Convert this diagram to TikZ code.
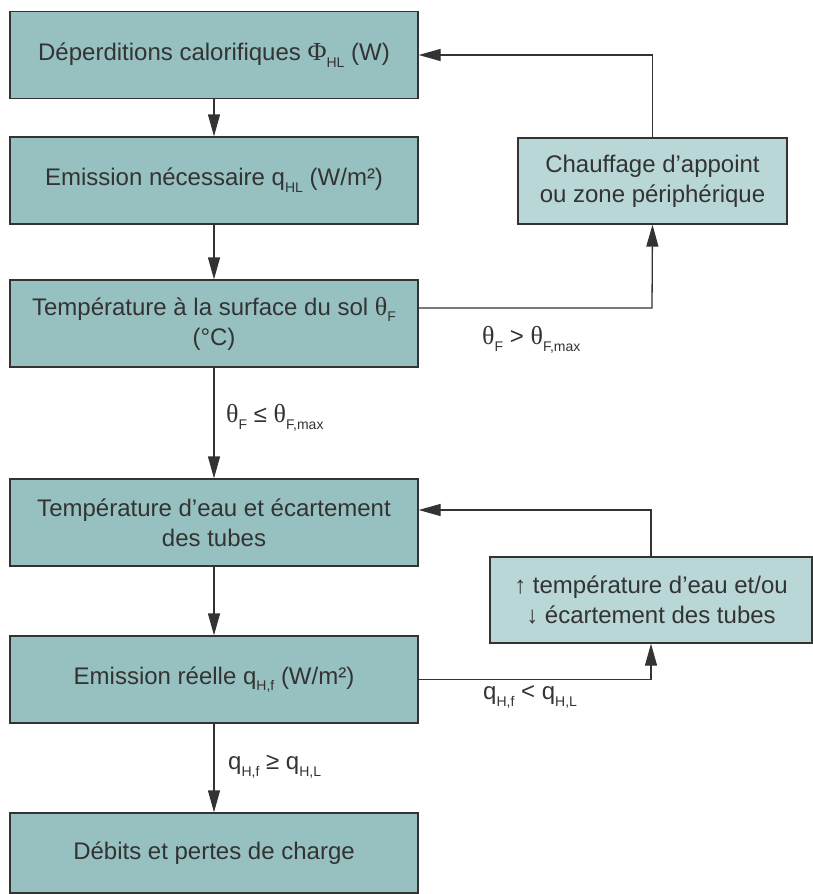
\documentclass[tikz,border=0pt]{standalone}
\usepackage{fontspec}
\setmainfont{Liberation Sans}
\newfontfamily\grkfont{Liberation Serif}
\usetikzlibrary{arrows.meta}
\definecolor{boxdark}{HTML}{96C1C0}
\definecolor{boxlight}{HTML}{B9D7D6}
\definecolor{ink}{HTML}{333333}
\definecolor{wire}{HTML}{333333}
% lowered small index and serif Greek letters
\newcommand{\lo}[1]{\raisebox{-0.28em}{\fontsize{14}{14}\selectfont #1}}
\newcommand{\gk}[1]{{\grkfont\fontsize{26}{30}\selectfont #1}}
\begin{document}
\begin{tikzpicture}[x=1pt,y=-1pt,
  mainbox/.style={draw=wire, line width=1.3pt, fill=boxdark,
    minimum width=408pt, minimum height=87pt, inner sep=0pt,
    align=center, text=ink, font=\fontsize{24}{30}\selectfont},
  sidebox/.style={mainbox, fill=boxlight},
  flow/.style={draw=wire, line width=1.3pt,
    -{Triangle[length=22pt,width=12pt]}},
  cond/.style={anchor=west, text=ink, inner sep=0pt,
    font=\fontsize{24}{28}\selectfont}]
\useasboundingbox (0,0) rectangle (812,894);

% main chain
\node[mainbox] (b1) at (214,55) {Déperditions calorifiques \gk{Φ}\lo{HL} (W)};
\node[mainbox] (b2) at (214,180.5) {Emission nécessaire q\lo{HL} (W/m²)};
\node[mainbox] (b3) at (214,323.5) {Température à la surface du sol \gk{θ}\lo{F}\\(°C)};
\node[mainbox] (b4) at (214,522.5) {Température d’eau et écartement\\des tubes};
\node[mainbox] (b5) at (214,679.5) {Emission réelle q\lo{H,f} (W/m²)};
\node[mainbox, minimum height=80pt] (b6) at (214,853) {Débits et pertes de charge};

% side actions
\node[sidebox, minimum width=269pt, minimum height=86pt] (bA) at (652.5,181)
  {Chauffage d’appoint\\ou zone périphérique};
\node[sidebox, minimum width=322pt, minimum height=86pt] (bB) at (651,600)
  {↑ température d’eau et/ou\\↓ écartement des tubes};

% vertical flow
\draw[flow] (b1) -- (b2);
\draw[flow] (b2) -- (b3);
\draw[flow] (b3) -- (b4);
\draw[flow] (b4) -- (b5);
\draw[flow] (b5) -- (b6);

% feedback loops
\coordinate (jA) at (652,308);
\draw[flow] (b3.east |- jA) -- (jA) -- (bA.south);
\draw[flow] (bA.north) |- (b1.east);
\coordinate (jB) at (652,510);
\draw[flow] (bB.north) |- (b4.east |- jB);
\draw[flow] (b5.east) -| (bB.south);

% conditions
\node[cond] (lA) at (482,340) {\gk{θ}\lo{F} > \gk{θ}\lo{F,max}};
\node[cond] (lB) at (226,418) {\gk{θ}\lo{F} ≤ \gk{θ}\lo{F,max}};
\node[cond] (lC) at (483,697) {q\lo{H,f} < q\lo{H,L}};
\node[cond] (lD) at (228,767) {q\lo{H,f} ≥ q\lo{H,L}};
\end{tikzpicture}
\end{document}
